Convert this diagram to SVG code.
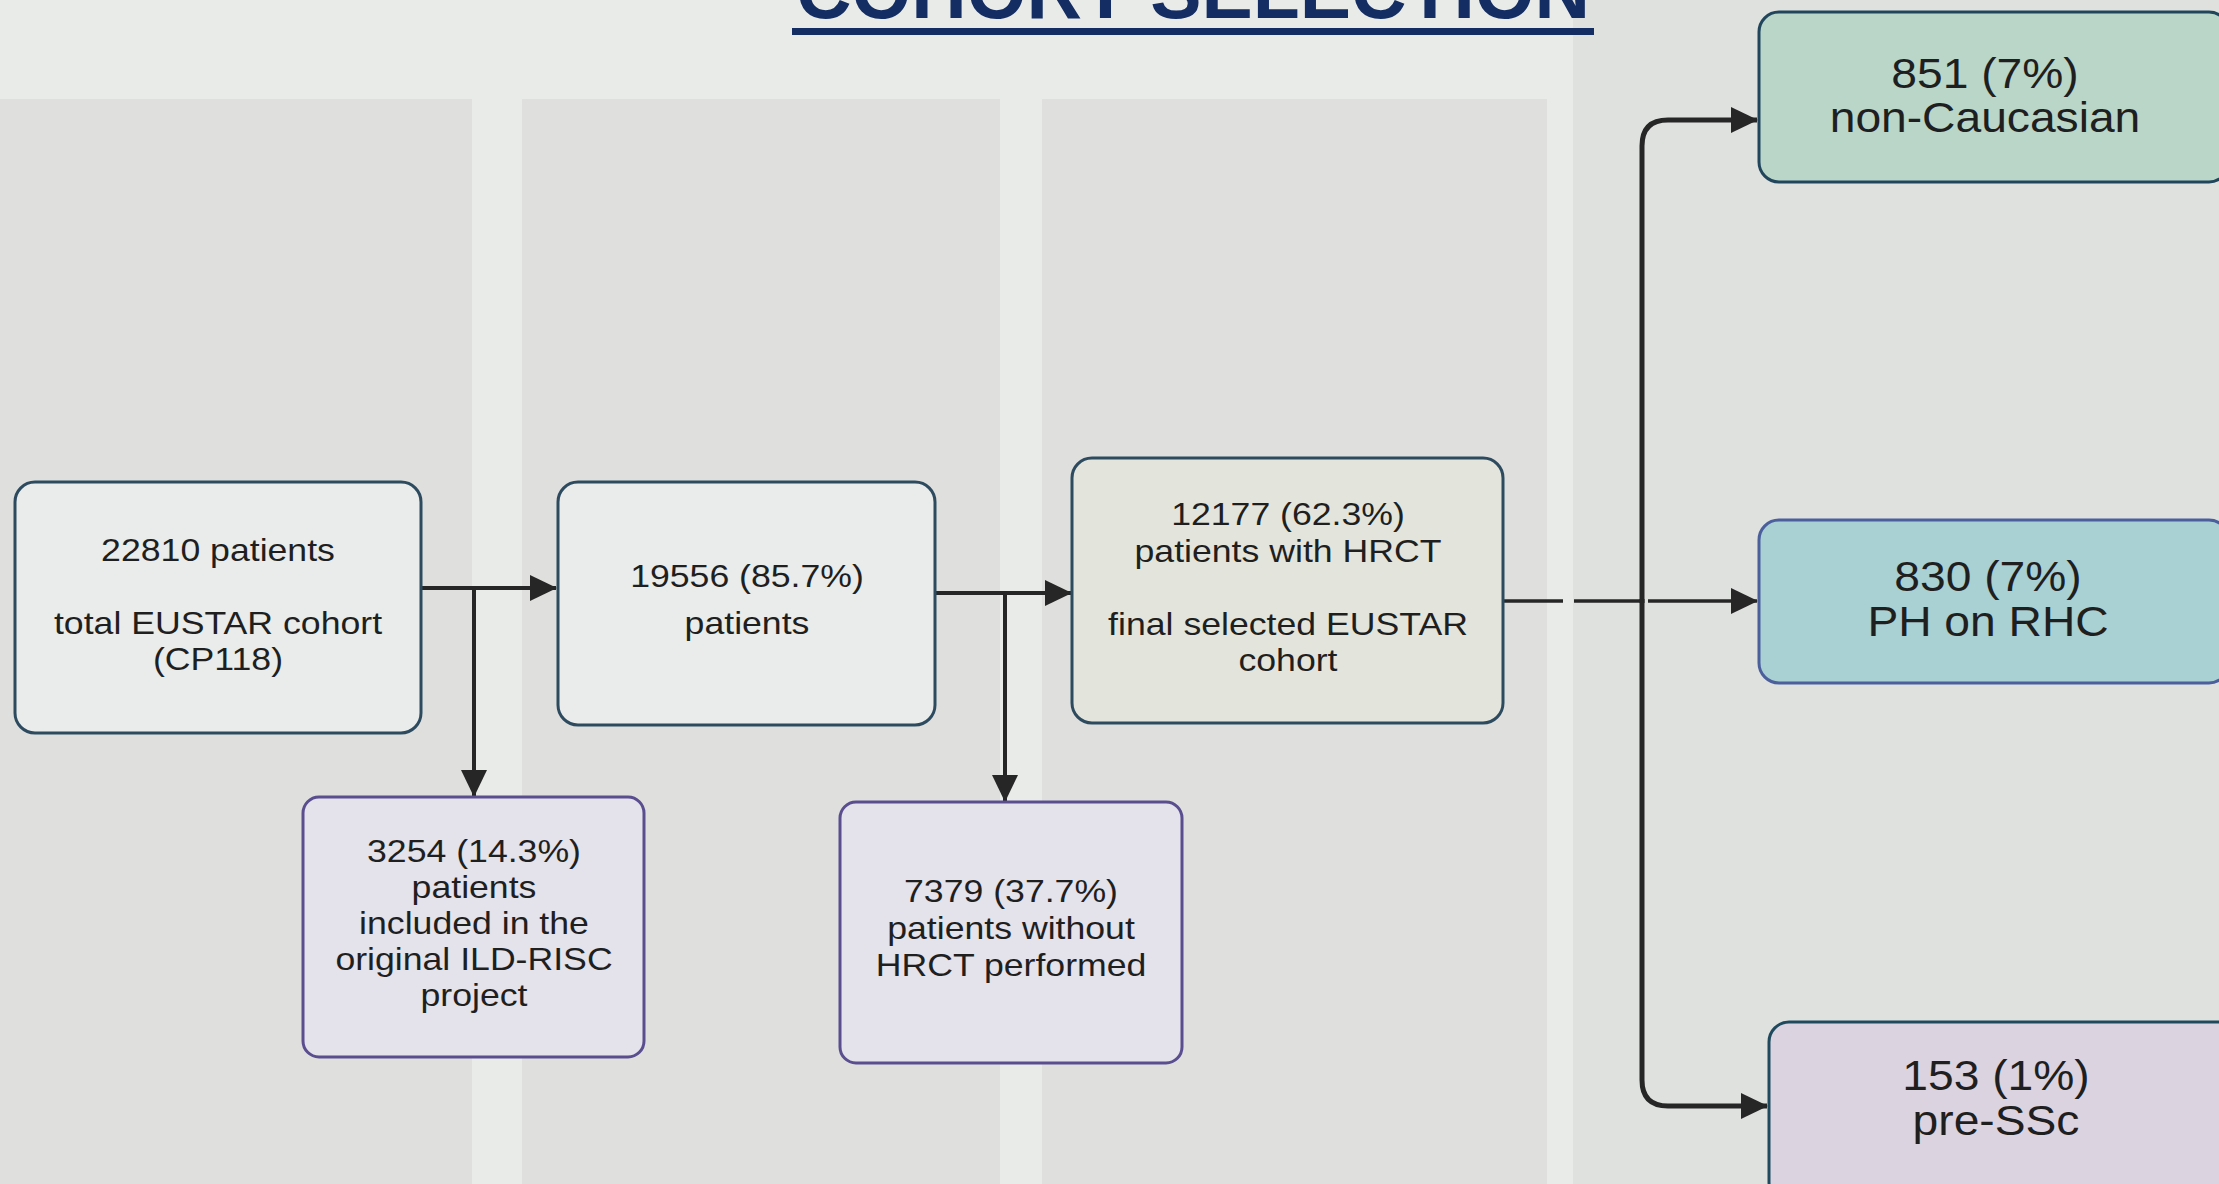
<svg xmlns="http://www.w3.org/2000/svg" width="2219" height="1184" viewBox="0 0 2219 1184">
  <defs>
    <marker id="arr" markerUnits="userSpaceOnUse" markerWidth="27" markerHeight="26" refX="26" refY="13" orient="auto">
      <path d="M0,0 L27,13 L0,26 Z" fill="#262626"/>
    </marker>
  </defs>
  <style>
    .lbl { font-family: "Liberation Sans", Arial, Helvetica, sans-serif; font-size: 31px; fill: #1f1f1f; text-anchor: middle; }
    .big { font-size: 42px; }
    .conn { stroke: #262626; stroke-width: 4; fill: none; }
    .trunk { stroke: #262626; stroke-width: 5; fill: none; }
    .thin { stroke: #262626; stroke-width: 3.5; fill: none; }
    .box { stroke-width: 3; }
    .grey { fill: #e9ecea; stroke: #2d4a5f; }
    .final { fill: #e3e5dc; stroke: #2d4a5f; }
    .excl { fill: #e4e2ea; stroke: #5a4e8e; }
  </style>

  <!-- background -->
  <rect x="0" y="0" width="2219" height="1184" fill="#e9ebe9"/>
  <rect x="0" y="99" width="472" height="1085" fill="#dfe0de"/>
  <rect x="522" y="99" width="478" height="1085" fill="#dfe0de"/>
  <rect x="1042" y="99" width="505" height="1085" fill="#dfe0de"/>
  <rect x="1573" y="0" width="646" height="1184" fill="#dfe1df"/>

  <!-- title -->
  <g id="title">
    <text x="1193" y="18" font-family="'Liberation Sans', Arial, sans-serif" font-weight="bold" font-size="77" fill="#142d62" text-anchor="middle" textLength="794" lengthAdjust="spacingAndGlyphs">COHORT SELECTION</text>
    <rect x="792" y="28" width="802" height="7" fill="#142d62"/>
  </g>

  <!-- connectors -->
  <g id="connectors">
    <path class="conn" d="M421,588 H556" marker-end="url(#arr)"/>
    <path class="conn" d="M474,588 V796" marker-end="url(#arr)"/>
    <path class="conn" d="M935,593 H1071" marker-end="url(#arr)"/>
    <path class="conn" d="M1005,593 V801" marker-end="url(#arr)"/>
    <path class="thin" d="M1503,601 H1563"/>
    <path class="thin" d="M1574,601 H1642"/>
    <path class="thin" d="M1648,601 H1757" marker-end="url(#arr)"/>
    <path class="trunk" d="M1642,603 V146 Q1642,120 1668,120 H1757" marker-end="url(#arr)"/>
    <path class="trunk" d="M1642,599 V1080 Q1642,1106 1668,1106 H1767" marker-end="url(#arr)"/>
  </g>

  <!-- nodes -->
  <g id="node-total">
    <rect class="box grey" x="15" y="482" width="406" height="251" rx="20"/>
    <g transform="translate(218,0) scale(1.15,1)">
      <text class="lbl" x="0" y="561">22810 patients</text>
      <text class="lbl" x="0" y="634">total EUSTAR cohort</text>
      <text class="lbl" x="0" y="670">(CP118)</text>
    </g>
  </g>

  <g id="node-19556">
    <rect class="box grey" x="558" y="482" width="377" height="243" rx="20"/>
    <g transform="translate(747,0) scale(1.15,1)">
      <text class="lbl" x="0" y="587">19556 (85.7%)</text>
      <text class="lbl" x="0" y="634">patients</text>
    </g>
  </g>

  <g id="node-final">
    <rect class="box final" x="1072" y="458" width="431" height="265" rx="20"/>
    <g transform="translate(1288,0) scale(1.15,1)">
      <text class="lbl" x="0" y="525">12177 (62.3%)</text>
      <text class="lbl" x="0" y="562">patients with HRCT</text>
      <text class="lbl" x="0" y="635">final selected EUSTAR</text>
      <text class="lbl" x="0" y="671">cohort</text>
    </g>
  </g>

  <g id="node-ildrisc">
    <rect class="box excl" x="303" y="797" width="341" height="260" rx="16"/>
    <g transform="translate(474,0) scale(1.15,1)">
      <text class="lbl" x="0" y="862">3254 (14.3%)</text>
      <text class="lbl" x="0" y="898">patients</text>
      <text class="lbl" x="0" y="934">included in the</text>
      <text class="lbl" x="0" y="970">original ILD-RISC</text>
      <text class="lbl" x="0" y="1006">project</text>
    </g>
  </g>

  <g id="node-nohrct">
    <rect class="box excl" x="840" y="802" width="342" height="261" rx="16"/>
    <g transform="translate(1011,0) scale(1.15,1)">
      <text class="lbl" x="0" y="902">7379 (37.7%)</text>
      <text class="lbl" x="0" y="939">patients without</text>
      <text class="lbl" x="0" y="976">HRCT performed</text>
    </g>
  </g>

  <g id="node-noncaucasian">
    <rect class="box" x="1759" y="12" width="470" height="170" rx="20" fill="#b9d6c9" stroke="#21465c"/>
    <g transform="translate(1985,0) scale(1.1,1)">
      <text class="lbl big" x="0" y="88">851 (7%)</text>
      <text class="lbl big" x="0" y="132">non-Caucasian</text>
    </g>
  </g>

  <g id="node-ph">
    <rect class="box" x="1759" y="520" width="470" height="163" rx="20" fill="#a9d0d3" stroke="#4a5f9c"/>
    <g transform="translate(1988,0) scale(1.1,1)">
      <text class="lbl big" x="0" y="591">830 (7%)</text>
      <text class="lbl big" x="0" y="636">PH on RHC</text>
    </g>
  </g>

  <g id="node-pressc">
    <rect class="box" x="1769" y="1022" width="470" height="180" rx="20" fill="#dcd3e0" stroke="#1f4a5e"/>
    <g transform="translate(1996,0) scale(1.1,1)">
      <text class="lbl big" x="0" y="1090">153 (1%)</text>
      <text class="lbl big" x="0" y="1135">pre-SSc</text>
    </g>
  </g>
</svg>
